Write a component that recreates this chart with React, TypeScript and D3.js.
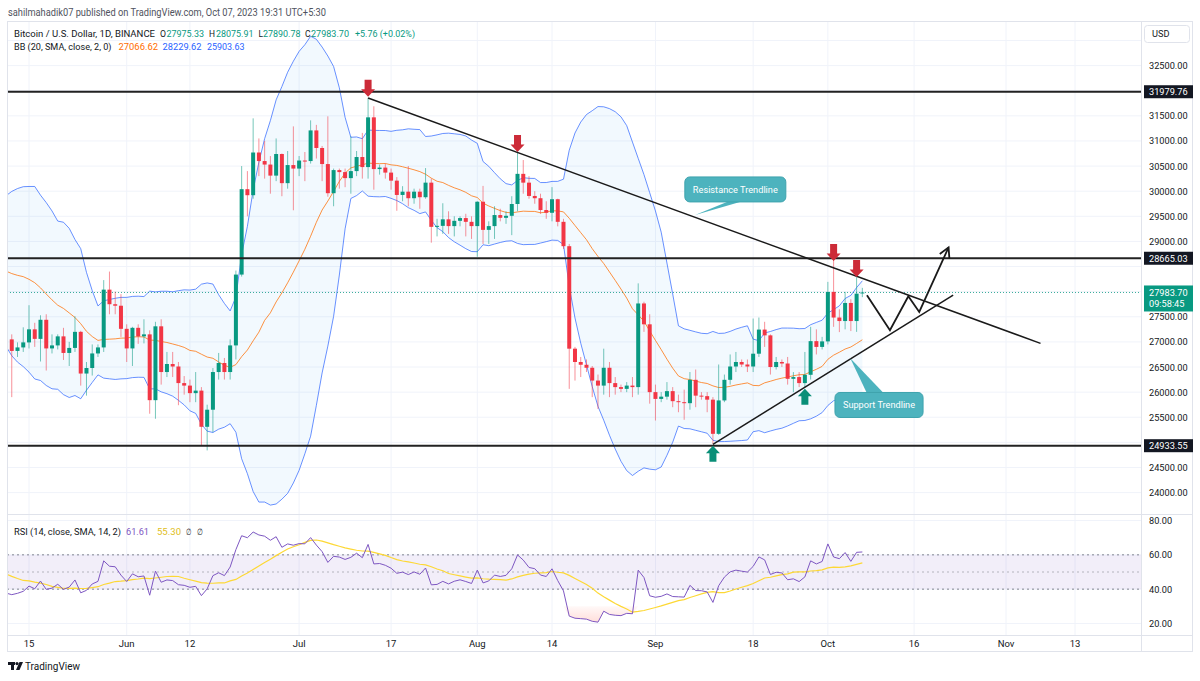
import * as d3 from 'd3';
import React from 'react';

// daily candles, first one is 2023-05-12
const firstDay = Date.UTC(2023, 4, 12);

const opens = [
  27050, 26820, 26890, 26990, 27250, 27060, 27440, 26870, 26930, 27110, 26780, 26880, 27200, 26370, 26480, 26770, 26890, 28040, 27750, 27720,
  27260, 26870, 27280, 27110, 27150, 25840, 27310, 26400, 26560, 26510, 26180, 26130, 25980, 26030, 25310, 25650, 26400, 26580, 26400, 26930, 28340, 30040, 29920, 30770, 30600, 30530, 30310, 30740, 30160, 30520,
  30450, 30610, 30600, 31210, 30860, 30540, 29960, 30420, 30380, 30260, 30400, 30680, 30480, 31470, 30440, 30470, 30370, 30210, 29925, 29990, 29860, 29990, 29880, 30170, 29290, 29310, 29440, 29305, 29410, 29465, 29390,
  29305, 29790, 29230, 29305, 29525, 29470, 29510, 29745, 30345, 30170, 29905, 29860, 29625, 29570, 29840, 29390, 28905, 26865, 26600, 26545, 26485, 26230, 26130, 26485, 26180, 26100, 26065, 26130, 26100, 27765, 27350,
  26000, 25865, 25910, 26020, 25820, 25800, 25780, 26245, 25930, 25920, 25850, 25170, 25835, 26245, 26510, 26600, 26550, 26510, 26765, 27245, 27130, 26500, 26600, 26570, 26265, 26300, 26180, 26345, 27015, 26900,
  27010, 27995, 27485, 27415, 27775, 27415, 27975.33,
];
const highs = [
  27150, 26990, 27290, 27730, 27380, 27530, 27550, 27150, 27150, 27280, 27000, 27510, 27220, 26600, 26950, 26950, 28230, 28400, 28000, 27950,
  27350, 27300, 27350, 27450, 27230, 27400, 27450, 26800, 26800, 26600, 26320, 26250, 26400, 26100, 25750, 26480, 26780, 26680, 27050, 28420, 30500, 30400, 31450, 31050, 31000, 30700, 31050, 30750, 30800, 31290,
  30700, 30780, 31410, 31320, 30900, 31490, 30450, 30450, 30450, 31090, 30800, 31160, 31860, 31690, 30530, 30550, 30450, 30280, 30100, 30500, 30050, 30050, 30460, 30250, 29450, 29760, 29600, 29500, 29500, 29550, 29500,
  29800, 30105, 29400, 29700, 29650, 29600, 29900, 30790, 30620, 30300, 30000, 29950, 29800, 30080, 29850, 29450, 28950, 26900, 26700, 26650, 26520, 26350, 26865, 26600, 26300, 26150, 26200, 26300, 28165, 27800, 27550,
  26150, 26000, 26200, 26100, 25950, 26050, 26400, 26450, 26000, 26000, 25900, 26550, 26350, 26750, 26800, 26650, 26650, 27465, 27485, 27400, 27150, 26700, 26650, 26700, 26400, 26400, 26800, 27300, 27250, 27100,
  28195, 28630, 27650, 27995, 27850, 28290, 28075.91,
];
const lows = [
  25900, 26700, 26800, 26870, 26900, 26610, 26430, 26770, 26850, 26640, 26520, 26800, 26130, 25930, 26330, 26700, 26800, 27550, 27550, 27100,
  26600, 26520, 26960, 26970, 25570, 25470, 26150, 26300, 26300, 25740, 25950, 25800, 25800, 24940, 24840, 25200, 26250, 26250, 26250, 26650, 28300, 29500, 29850, 30300, 30250, 29950, 30200, 29900, 30050, 29620,
  30300, 30200, 30550, 30650, 30200, 29890, 29700, 30050, 30080, 29950, 30300, 30250, 30250, 30030, 30330, 30250, 30030, 29610, 29800, 29700, 29750, 29650, 29850, 28975, 29100, 29150, 29150, 29100, 29300, 29100, 29050,
  28695, 28950, 28950, 29050, 29400, 29350, 29125, 29600, 29950, 29850, 29750, 29550, 29450, 29400, 29300, 28850, 26065, 26230, 26300, 26400, 25900, 25665, 25950, 25900, 25950, 26000, 26000, 25900, 25950, 27200, 25770,
  25435, 25800, 25850, 25700, 25600, 25450, 25650, 25700, 25850, 25600, 24970, 25150, 25800, 26150, 26400, 26500, 26400, 26400, 26700, 26900, 26350, 26450, 26500, 26150, 26000, 26100, 26100, 26250, 26750, 26850,
  26950, 27300, 27195, 27250, 27215, 27200, 27890.78,
];
const closes = [
  26820, 26890, 26990, 27250, 27060, 27440, 26870, 26930, 27110, 26780, 26880, 27200, 26370, 26480, 26770, 26890, 28040, 27750, 27720, 27260,
  26870, 27280, 27110, 27150, 25840, 27310, 26400, 26560, 26510, 26180, 26130, 25980, 26030, 25310, 25650, 26400, 26580, 26400, 26930, 28340, 30040, 29920, 30770, 30600, 30530, 30310, 30740, 30160, 30520, 30450,
  30610, 30600, 31210, 30860, 30540, 29960, 30420, 30380, 30260, 30400, 30680, 30480, 31470, 30440, 30470, 30370, 30210, 29925, 29990, 29860, 29990, 29880, 30170, 29290, 29310, 29440, 29305, 29410, 29465, 29390, 29305,
  29790, 29230, 29305, 29525, 29470, 29510, 29745, 30345, 30170, 29905, 29860, 29625, 29570, 29840, 29390, 28905, 26865, 26600, 26545, 26485, 26230, 26130, 26485, 26180, 26100, 26065, 26130, 26100, 27765, 27350, 26000,
  25865, 25910, 26020, 25820, 25800, 25780, 26245, 25930, 25920, 25850, 25170, 25835, 26245, 26510, 26600, 26550, 26510, 26765, 27245, 27130, 26500, 26600, 26570, 26265, 26300, 26180, 26345, 27015, 26900, 27010,
  27995, 27485, 27415, 27775, 27415, 27960, 27983.70,
];
// closes before the visible range (Apr 1 - May 11), only needed to seed BB and RSI
const warmupCloses = [
  28465, 28199, 27790, 28168, 28175, 28033, 27906, 27948, 28333, 29652, 30235, 29892, 30399, 30485, 30318, 30315, 29445, 30398, 28822, 28245,
  27262, 27817, 27591, 27514, 28307, 28422, 29473, 29340, 29249, 29233, 28068, 28669, 29026, 28838, 29506, 28849, 28430, 27668, 27628, 27598, 26970,
];

const priceTicks = d3.range(23500, 33001, 500);
// axis labels that TradingView shows (the others sit under the price badges)
const priceLabels = [24000, 24500, 25500, 26000, 26500, 27000, 27500, 29000, 29500, 30000, 30500, 31000, 31500, 32500];
const rsiTicks = [20, 40, 60, 80];
const timeTicks: [string, string][] = [
  ['2023-05-15', '15'], ['2023-06-01', 'Jun'], ['2023-06-12', '12'], ['2023-07-01', 'Jul'], ['2023-07-17', '17'],
  ['2023-08-01', 'Aug'], ['2023-08-14', '14'], ['2023-09-01', 'Sep'], ['2023-09-18', '18'], ['2023-10-01', 'Oct'],
  ['2023-10-16', '16'], ['2023-11-01', 'Nov'], ['2023-11-13', '13'],
];
const levels = [31979.76, 28665.03, 24933.55];
const lastPrice = 27983.70;
const countdown = '09:58:45';

// drawings, as [day offset from first candle, price]
const resistanceLine = [[62, 31855], [179, 26971]];
const supportLine = [[122, 24960], [163.8, 27930]];
const projection = [[148.8, 27929], [152.8, 27231], [156, 27909], [157.9, 27596], [163, 28881]];
const sellArrows = [[62, 31880], [88, 30780], [143, 28610], [147, 28290]];
const buyArrows = [[122, 24935], [138, 26066]];
const callouts = [
  { text: 'Resistance Trendline', day: 125.9, price: 30035, tipDay: 118.9, tipPrice: 29526, side: 1, base: [-6, 8] },
  { text: 'Support Trendline', day: 150.9, price: 25744, tipDay: 145.9, tipPrice: 26672, side: -1, base: [-12, 5] },
];

const legendMain: [number, string, number, string][] = [
  [14, 'Bitcoin / U.S. Dollar, 1D, BINANCE', 141, '#131722'],
  [160, 'O', 6, '#131722'], [166.5, '27975.33', 37.5, '#089981'],
  [209, 'H', 6, '#131722'], [216, '28075.91', 37.5, '#089981'],
  [258.5, 'L', 4.5, '#131722'], [263, '27890.78', 37.5, '#089981'],
  [305, 'C', 5.5, '#131722'], [311, '27983.70', 38, '#089981'],
  [355, '+5.76 (+0.02%)', 60, '#089981'],
];
const legendBB: [number, string, number, string][] = [
  [14, 'BB (20, SMA, close, 2, 0)', 97.5, '#131722'],
  [118.5, '27066.62', 39.5, '#FF6D00'],
  [162.5, '28229.62', 39, '#2962FF'],
  [207, '25903.63', 37.5, '#2962FF'],
];
const legendRsi: [number, string, number, string][] = [
  [14, 'RSI (14, close, SMA, 14, 2)', 107, '#131722'],
  [126, '61.61', 23, '#7E57C2'],
  [157, '55.30', 24, '#E0BE1A'],
  [186, '\u2205', 5.5, '#131722'],
  [197, '\u2205', 6, '#131722'],
];

const FONT = 'Roboto, "Noto Sans", Arial, sans-serif';
const UP = '#089981';
const DOWN = '#F23645';
const GRID = '#f0f3fa';
const BORDER = '#e0e3eb';
const INK = '#131722';

const dayOf = (n: number) => new Date(firstDay + n * 864e5);

// indicators from closes
const allCloses = warmupCloses.concat(closes);
const lead = warmupCloses.length;
const bands = d3.range(19, allCloses.length).map((i) => {
  const w = allCloses.slice(i - 19, i + 1);
  const m = d3.mean(w) as number;
  const sd = Math.sqrt(d3.mean(w, (v) => (v - m) ** 2) as number);
  return { t: dayOf(i - lead), mid: m, up: m + 2 * sd, lo: m - 2 * sd };
}).filter((b) => b.t.getTime() >= dayOf(-2).getTime());

const rsiVals: { t: Date; v: number }[] = [];
let ag = 0;
let al = 0;
for (let i = 1; i < allCloses.length; i++) {
  const ch = allCloses[i] - allCloses[i - 1];
  const g = Math.max(ch, 0);
  const l = Math.max(-ch, 0);
  if (i <= 14) {
    ag += g / 14;
    al += l / 14;
  } else {
    ag = (ag * 13 + g) / 14;
    al = (al * 13 + l) / 14;
  }
  if (i >= 14) rsiVals.push({ t: dayOf(i - lead), v: al === 0 ? 100 : 100 - 100 / (1 + ag / al) });
}
const rsiMa = rsiVals.slice(13).map((d, k) => ({ t: d.t, v: d3.mean(rsiVals.slice(k, k + 14), (e) => e.v) as number }));
const rsiShown = rsiVals.filter((d) => d.t.getTime() >= dayOf(-2).getTime());
const rsiMaShown = rsiMa.filter((d) => d.t.getTime() >= dayOf(-2).getTime());

const PL = 7;
const PR = 1141;
const MT = 22;
const MB = 514;
const RT = 515;
const RB = 635;

export default function App() {
  const x = d3.scaleUtc()
    .domain([new Date(Date.UTC(2023, 4, 15)), new Date(Date.UTC(2023, 10, 13))])
    .range([29, 1075]);
  const y = d3.scaleLinear().domain([24000, 32500]).range([492.6, 65.6]);
  const yR = d3.scaleLinear().domain([20, 80]).range([623.5, 520.5]);

  const bbArea = d3.area<any>().x((d) => x(d.t)).y0((d) => y(d.lo)).y1((d) => y(d.up));
  const bbLine = (k: string) => d3.line<any>().x((d) => x(d.t)).y((d) => y(d[k]))(bands) as string;
  const rsiLine = d3.line<any>().x((d) => x(d.t)).y((d) => yR(d.v));
  const lowFill = d3.area<any>().x((d) => x(d.t)).y0(yR(30)).y1((d) => yR(Math.min(d.v, 30)));
  const highFill = d3.area<any>().x((d) => x(d.t)).y0(yR(70)).y1((d) => yR(Math.max(d.v, 70)));
  const pt = (p: number[]) => [x(dayOf(p[0])), y(p[1])];
  const seg = (pts: number[][]) => d3.line()(pts.map(pt) as [number, number][]) as string;

  const proj = projection.map(pt);
  const [ax, ay] = proj[proj.length - 1];
  const [bx, by] = proj[proj.length - 2];
  const ang = Math.atan2(ay - by, ax - bx);
  const wing = (s: number) => `${ax - 11 * Math.cos(ang + s)},${ay - 11 * Math.sin(ang + s)}`;

  const txt = (items: [number, string, number, string][], yy: number, size: number) =>
    items.map(([xx, s, w, c], i) => (
      <text key={i} x={xx} y={yy} fontSize={size} fill={c} textLength={w} lengthAdjust="spacingAndGlyphs">{s}</text>
    ));

  return (
    <svg width={1200} height={681} style={{ position: 'absolute', left: 0, top: 0, background: '#fff' }} fontFamily={FONT}>
      <defs>
        <clipPath id="main"><rect x={PL} y={MT} width={PR - PL} height={MB - MT} /></clipPath>
        <clipPath id="rsi"><rect x={PL} y={RT} width={PR - PL} height={RB - RT} /></clipPath>
        <clipPath id="axisRsi"><rect x={PR} y={RT} width={60} height={RB - RT} /></clipPath>
        <linearGradient id="os" gradientUnits="userSpaceOnUse" x1={0} x2={0} y1={yR(30)} y2={yR(0)}>
          <stop offset="0" stopColor="#FF7B6B" stopOpacity={0.05} />
          <stop offset="1" stopColor="#FF7B6B" stopOpacity={0.7} />
        </linearGradient>
        <linearGradient id="ob" gradientUnits="userSpaceOnUse" x1={0} x2={0} y1={yR(70)} y2={yR(100)}>
          <stop offset="0" stopColor={UP} stopOpacity={0} />
          <stop offset="1" stopColor={UP} stopOpacity={0.7} />
        </linearGradient>
      </defs>

      <rect width={1200} height={681} fill="#fff" />
      <text x={8} y={16} fontSize={10.5} fill="#50535e" textLength={318} lengthAdjust="spacingAndGlyphs">
        sahilmahadik07 published on TradingView.com, Oct 07, 2023 19:31 UTC+5:30
      </text>

      {/* grid */}
      {timeTicks.map(([d]) => (
        <line key={d} x1={x(new Date(d))} x2={x(new Date(d))} y1={MT} y2={RB} stroke={GRID} />
      ))}
      <g clipPath="url(#main)">
        {priceTicks.map((p) => <line key={p} x1={PL} x2={PR} y1={y(p)} y2={y(p)} stroke={GRID} />)}
      </g>
      <g clipPath="url(#rsi)">
        {rsiTicks.map((v) => <line key={v} x1={PL} x2={PR} y1={yR(v)} y2={yR(v)} stroke={GRID} />)}
      </g>

      {/* main pane */}
      <g clipPath="url(#main)">
        <path d={bbArea(bands) as string} fill="#2196F3" fillOpacity={0.06} />
        <path d={bbLine('up')} fill="none" stroke="#2962FF" strokeOpacity={0.7} />
        <path d={bbLine('lo')} fill="none" stroke="#2962FF" strokeOpacity={0.7} />
        <path d={bbLine('mid')} fill="none" stroke="#FF6D00" strokeOpacity={0.75} />
        <line x1={PL} x2={PR} y1={y(lastPrice)} y2={y(lastPrice)} stroke={UP} strokeDasharray="1 2" strokeOpacity={0.8} />

        {closes.map((c, i) => {
          const o = opens[i];
          const col = c >= o ? UP : DOWN;
          const cx = x(dayOf(i));
          const top = y(Math.max(o, c));
          const bot = y(Math.min(o, c));
          return (
            <g key={i}>
              <line x1={cx} x2={cx} y1={y(highs[i])} y2={y(lows[i])} stroke={col} strokeOpacity={0.55} />
              <rect x={cx - 2} y={top} width={4} height={Math.max(bot - top, 1)} fill={col} />
            </g>
          );
        })}

        {levels.map((p) => <line key={p} x1={PL} x2={PR} y1={y(p)} y2={y(p)} stroke="#222" strokeWidth={2} />)}

        <path d={seg(resistanceLine)} stroke="#1a1a1a" strokeWidth={1.5} fill="none" />
        <path d={seg(supportLine)} stroke="#1a1a1a" strokeWidth={1.5} fill="none" />
        <path d={seg(projection)} stroke="#1a1a1a" strokeWidth={1.8} fill="none" strokeLinejoin="miter" />
        <path d={`M${wing(0.5)}L${ax},${ay}L${wing(-0.5)}`} stroke="#1a1a1a" strokeWidth={1.8} fill="none" />

        {sellArrows.map((p, i) => {
          const [px, py] = pt(p);
          return <path key={i} transform={`translate(${px},${py})`} d="M0,0L-7,-7.5L-3.5,-7.5L-3.5,-17L3.5,-17L3.5,-7.5L7,-7.5Z" fill="#CC2B38" />;
        })}
        {buyArrows.map((p, i) => {
          const [px, py] = pt(p);
          return <path key={i} transform={`translate(${px},${py})`} d="M0,0L-7,7.5L-3.5,7.5L-3.5,16L3.5,16L3.5,7.5L7,7.5Z" fill="#0A8F78" />;
        })}

        {callouts.map((c) => {
          const [cx, cy] = pt([c.day, c.price]);
          const [tx, ty] = pt([c.tipDay, c.tipPrice]);
          const w = c.text.length * 4.3 + 15;
          const h = 25;
          const ey = cy + (c.side * h) / 2 - c.side;
          return (
            <g key={c.text}>
              <polygon points={`${cx + c.base[0]},${ey} ${cx + c.base[1]},${ey} ${tx},${ty}`} fill="#4DB3BE" />
              <rect x={cx - w / 2} y={cy - h / 2} width={w} height={h} rx={5} fill="#4DB3BE" stroke="#3FA3AE" />
              <text x={cx} y={cy + 3.5} textAnchor="middle" fontSize={9.5} fill="#fff" textLength={w - 16} lengthAdjust="spacingAndGlyphs">{c.text}</text>
            </g>
          );
        })}
      </g>

      {txt(legendMain, 37, 9.5)}
      {txt(legendBB, 49.5, 9.5)}

      {/* rsi pane */}
      <g clipPath="url(#rsi)">
        <rect x={PL} y={yR(60)} width={PR - PL} height={yR(40) - yR(60)} fill="#7E57C2" fillOpacity={0.1} />
        {[60, 50, 40].map((v) => (
          <line key={v} x1={PL} x2={PR} y1={yR(v)} y2={yR(v)} stroke="#787B86" strokeDasharray="2 3" strokeOpacity={v === 50 ? 0.5 : 0.9} />
        ))}
        <path d={lowFill(rsiShown) as string} fill="url(#os)" />
        <path d={highFill(rsiShown) as string} fill="url(#ob)" />
        <path d={rsiLine(rsiMaShown) as string} fill="none" stroke="#FDD835" strokeWidth={1.2} />
        <path d={rsiLine(rsiShown) as string} fill="none" stroke="#7E57C2" strokeWidth={1} />
      </g>
      {txt(legendRsi, 535, 9)}

      {/* frame and scales */}
      <line x1={PL} x2={1193} y1={MB + 0.5} y2={MB + 0.5} stroke={BORDER} />
      <line x1={PL} x2={1193} y1={RB + 0.5} y2={RB + 0.5} stroke={BORDER} />
      <line x1={PR + 0.5} x2={PR + 0.5} y1={MT} y2={652} stroke={BORDER} />
      <rect x={PL + 0.5} y={21.5} width={1185} height={630} fill="none" stroke={BORDER} />

      {priceLabels.map((p) => (
        <text key={p} x={1149} y={y(p) + 3.5} fontSize={9.2} fill={INK}>{d3.format('.2f')(p)}</text>
      ))}
      <g clipPath="url(#axisRsi)">
        {rsiTicks.map((v) => (
          <text key={v} x={1149} y={yR(v) + 3.5} fontSize={9.2} fill={INK}>{d3.format('.2f')(v)}</text>
        ))}
      </g>

      {levels.map((p) => (
        <g key={p}>
          <rect x={1144} y={y(p) - 6.5} width={49} height={13} fill={INK} />
          <text x={1149} y={y(p) + 3.5} fontSize={9.2} fill="#fff">{d3.format('.2f')(p)}</text>
        </g>
      ))}
      <rect x={1144} y={y(lastPrice) - 7} width={49} height={26} fill={UP} />
      <text x={1149} y={y(lastPrice) + 3.5} fontSize={9.2} fill="#fff">{d3.format('.2f')(lastPrice)}</text>
      <text x={1149} y={y(lastPrice) + 15} fontSize={9.2} fill="#fff">{countdown}</text>

      <rect x={1144.5} y={25.5} width={45} height={17} rx={3} fill="#fff" stroke={BORDER} />
      <text x={1152} y={37} fontSize={9.2} fill={INK}>USD</text>

      {timeTicks.map(([d, s]) => (
        <text key={d} x={x(new Date(d))} y={646.5} fontSize={9.5} fill={INK} textAnchor="middle">{s}</text>
      ))}

      {/* footer logo */}
      <g fill={INK}>
        <rect x={8} y={662} width={7} height={3} />
        <rect x={11} y={662} width={3} height={8} />
        <circle cx={17} cy={663.6} r={1.6} />
        <polygon points="19.5,662 23,662 19.5,670 16,670" />
      </g>
      <text x={25} y={670} fontSize={10} fill={INK} textLength={55} lengthAdjust="spacingAndGlyphs">TradingView</text>
    </svg>
  );
}
